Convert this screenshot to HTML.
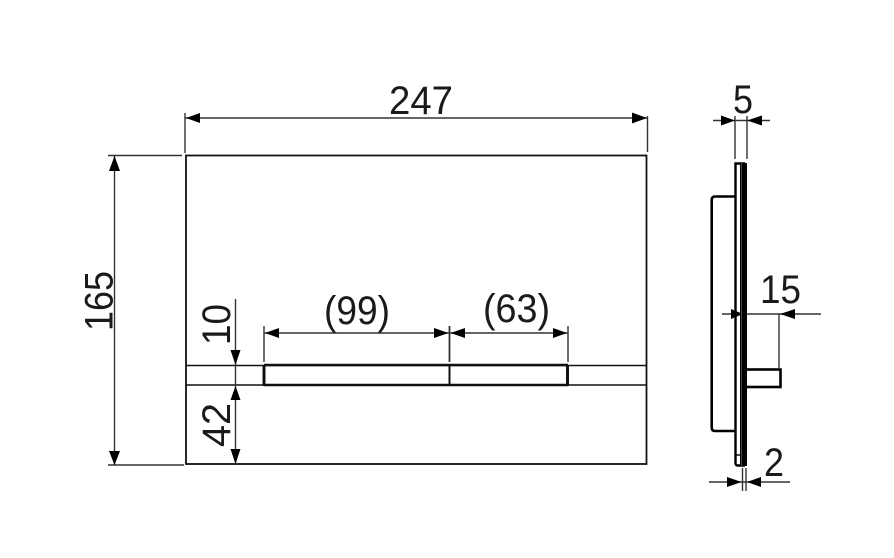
<!DOCTYPE html>
<html>
<head>
<meta charset="utf-8">
<style>
html,body{margin:0;padding:0;background:#fff;width:894px;height:558px;overflow:hidden}
svg{display:block}
text{font-family:"Liberation Sans",sans-serif;fill:#1a1a1a;font-size:40px}
</style>
</head>
<body>
<svg width="894" height="558" viewBox="0 0 894 558" xmlns="http://www.w3.org/2000/svg">
<rect width="894" height="558" fill="#fff"/>

<!-- front view -->
<g fill="none" stroke="#111">
<rect x="186" y="155.5" width="460.5" height="308.5" stroke-width="1.8"/>
<line x1="186" y1="365.5" x2="646" y2="365.5" stroke-width="1.6"/>
<line x1="186" y1="385" x2="646" y2="385" stroke-width="1.6"/>
<line x1="264" y1="365" x2="568" y2="365" stroke-width="2.4"/>
<line x1="264" y1="385" x2="568" y2="385" stroke-width="2.4"/>
<line x1="264" y1="365" x2="264" y2="386" stroke-width="3"/>
<line x1="449.5" y1="365" x2="449.5" y2="386" stroke-width="2"/>
<line x1="567.5" y1="365" x2="567.5" y2="386" stroke-width="3"/>
</g>

<!-- dimension lines -->
<g fill="none" stroke="#333" stroke-width="1.4">
<line x1="185" y1="118" x2="647" y2="118"/>
<line x1="185" y1="113" x2="185" y2="153"/>
<line x1="647.5" y1="116" x2="647.5" y2="152"/>
<line x1="114.5" y1="156" x2="114.5" y2="465"/>
<line x1="108" y1="155.5" x2="182" y2="155.5"/>
<line x1="108" y1="465" x2="184" y2="465"/>
<line x1="264" y1="333" x2="568" y2="333"/>
<line x1="264" y1="326" x2="264" y2="362"/>
<line x1="449.5" y1="326" x2="449.5" y2="362" stroke-width="1.8"/>
<line x1="568" y1="326" x2="568" y2="362"/>
<line x1="235.5" y1="299" x2="235.5" y2="464"/>
<line x1="713" y1="120.5" x2="770" y2="120.5"/>
<line x1="735" y1="116" x2="735" y2="159"/>
<line x1="747" y1="116" x2="747" y2="159"/>
<line x1="722" y1="314" x2="821" y2="314"/>
<line x1="779" y1="314" x2="779" y2="368"/>
<line x1="709" y1="482" x2="790" y2="482"/>
<line x1="742.5" y1="468" x2="742.5" y2="491"/>
<line x1="746" y1="468" x2="746" y2="491"/>
</g>

<!-- arrowheads -->
<g fill="#000">
<polygon points="186,118 200,113 200,123"/>
<polygon points="647,118 632,112.5 632,123.5"/>
<polygon points="114.5,156 109,171 120,171"/>
<polygon points="114.5,465 109,451 120,451"/>
<polygon points="265,333 279,328 279,338"/>
<polygon points="448.5,333 434,328 434,338"/>
<polygon points="450.5,333 465,328 465,338"/>
<polygon points="567,333 553,328 553,338"/>
<polygon points="235.5,365 230.5,350 240.5,350"/>
<polygon points="235.5,386 230.5,400 240.5,400"/>
<polygon points="235.5,464 230.5,449 240.5,449"/>
<polygon points="735,120.5 721,115.5 721,125.5"/>
<polygon points="747,120.5 762,115.5 762,125.5"/>
<polygon points="743,314 731,309 731,319"/>
<polygon points="780,314 795,309 795,319"/>
<polygon points="741.5,482 727,477 727,487"/>
<polygon points="747,482 761,477 761,487"/>
</g>

<!-- side view -->
<g fill="none" stroke="#000">
<path d="M735 196.5 H715 Q711.7 196.5 711.7 200 V427.5 Q711.7 431 715 431 H735" stroke-width="2.6"/>
<path d="M745 163.5 H735.5 V463 Q735.5 465.5 738 465.5 H745" stroke-width="2.4"/>
<line x1="736" y1="455" x2="741" y2="455" stroke-width="1.4"/>
<rect x="745" y="369.5" width="35.5" height="17.5" stroke-width="2.6"/>
</g>
<rect x="740" y="163" width="7" height="303" fill="#000"/>
<rect x="743.5" y="367" width="3.5" height="22" fill="#000"/>
<rect x="741" y="163" width="1" height="303" fill="#444"/>

<!-- labels -->
<text x="389" y="114" textLength="64" lengthAdjust="spacingAndGlyphs">247</text>
<text x="324" y="324" textLength="66" lengthAdjust="spacingAndGlyphs">(99)</text>
<text x="483" y="322" textLength="67" lengthAdjust="spacingAndGlyphs">(63)</text>
<text x="733" y="113" textLength="20" lengthAdjust="spacingAndGlyphs">5</text>
<text x="760" y="303" textLength="41" lengthAdjust="spacingAndGlyphs">15</text>
<text x="764" y="476" textLength="20" lengthAdjust="spacingAndGlyphs">2</text>
<text transform="translate(112.5,331) rotate(-90)" x="0" y="0" textLength="60" lengthAdjust="spacingAndGlyphs">165</text>
<text transform="translate(230,345) rotate(-90)" x="0" y="0" textLength="41" lengthAdjust="spacingAndGlyphs">10</text>
<text transform="translate(230,447) rotate(-90)" x="0" y="0" textLength="44" lengthAdjust="spacingAndGlyphs">42</text>
</svg>
</body>
</html>
